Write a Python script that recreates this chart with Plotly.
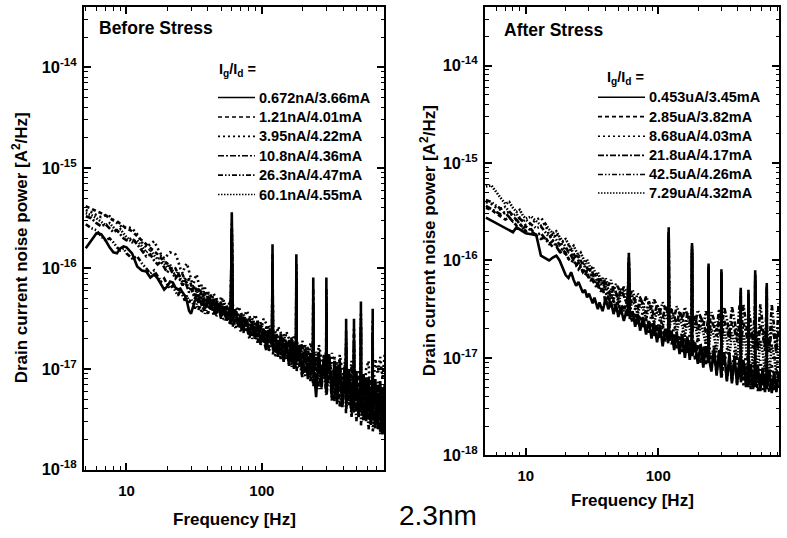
import plotly.graph_objects as go

# ---------------- data ----------------
freq_hz = [5, 5.5, 6, 6.5, 7, 7.5, 8, 8.5, 9, 9.5,
           10, 11, 12, 13, 14, 15, 16, 17, 18, 19,
           20, 21, 22, 23, 24, 25, 26, 27, 28, 29,
           30, 31, 32, 33, 34, 35, 36, 37, 38, 39,
           40, 42, 44, 46, 48, 50, 52, 55, 58, 59,
           60, 61, 64, 67, 70, 73, 77, 81, 85, 89,
           93, 98, 103, 108, 113, 119, 120, 121, 126, 132,
           138, 145, 152, 159, 166, 173, 179, 180, 181, 190,
           199, 209, 219, 229, 239, 240, 241, 252, 264, 276,
           288, 299, 300, 301, 315, 330, 345, 360, 377, 394,
           411, 419, 420, 421, 440, 460, 479, 480, 481, 500,
           520, 539, 540, 541, 565, 590, 615, 640, 659, 660,
           661, 690, 720, 750, 780, 810]

labels_before = ["0.672nA/3.66mA", "1.21nA/4.01mA", "3.95nA/4.22mA",
                 "10.8nA/4.36mA", "26.3nA/4.47mA", "60.1nA/4.55mA"]
labels_after = ["0.453uA/3.45mA", "2.85uA/3.82mA", "8.68uA/4.03mA",
                "21.8uA/4.17mA", "42.5uA/4.26mA", "7.29uA/4.32mA"]

x_tick_vals = [10, 100]
x_tick_text = ["10", "100"]
y_tick_vals = [1e-18, 1e-17, 1e-16, 1e-15, 1e-14]
y_tick_text = ["10<sup>-18</sup>", "10<sup>-17</sup>", "10<sup>-16</sup>",
               "10<sup>-15</sup>", "10<sup>-14</sup>"]

# log10 of drain current noise power [A^2/Hz]
before_s1 = [-15.80, -15.72, -15.65, -15.66, -15.72, -15.79, -15.84, -15.85, -15.80, -15.78,
             -15.79, -15.85, -15.98, -16.02, -16.03, -16.09, -16.06, -16.10, -16.16, -16.21,
             -16.18, -16.13, -16.14, -16.19, -16.21, -16.20, -16.24, -16.27, -16.33, -16.42,
             -16.45, -16.38, -16.32, -16.30, -16.34, -16.31, -16.37, -16.33, -16.40, -16.36,
             -16.28, -16.41, -16.30, -16.45, -16.35, -16.48, -16.38, -16.52, -16.40, -16.47,
             -15.44, -16.50, -16.42, -16.58, -16.46, -16.61, -16.50, -16.66, -16.55, -16.70,
             -16.52, -16.74, -16.60, -16.80, -16.62, -16.78, -15.76, -16.75, -16.66, -16.88,
             -16.65, -16.93, -16.72, -16.97, -16.70, -17.00, -16.78, -15.86, -16.92, -16.76,
             -17.05, -16.80, -17.10, -16.84, -17.02, -16.09, -16.96, -17.28, -16.85, -17.15,
             -16.90, -17.20, -16.09, -17.05, -16.88, -17.30, -16.92, -17.35, -16.95, -17.38,
             -16.98, -17.25, -16.50, -17.30, -17.00, -17.42, -17.05, -16.50, -17.36, -17.02,
             -17.48, -17.10, -16.33, -17.40, -17.05, -17.52, -17.08, -17.55, -17.12, -16.40,
             -17.50, -17.10, -17.60, -17.12, -17.65, -17.15]
before_s2 = [-15.38, -15.41, -15.43, -15.45, -15.47, -15.50, -15.52, -15.53, -15.56, -15.58,
             -15.60, -15.63, -15.68, -15.72, -15.76, -15.80, -15.83, -15.86, -15.90, -15.93,
             -15.95, -15.99, -16.02, -16.00, -16.05, -16.09, -16.06, -16.12, -16.15, -16.10,
             -16.16, -16.21, -16.17, -16.23, -16.20, -16.26, -16.22, -16.29, -16.25, -16.31,
             -16.35, -16.26, -16.38, -16.31, -16.44, -16.33, -16.46, -16.36, -16.49, -16.40,
             -15.55, -16.43, -16.55, -16.45, -16.57, -16.48, -16.62, -16.50, -16.66, -16.54,
             -16.68, -16.56, -16.75, -16.58, -16.79, -16.63, -15.85, -16.64, -16.83, -16.67,
             -16.86, -16.70, -16.90, -16.71, -16.93, -16.74, -16.96, -15.95, -16.78, -16.98,
             -16.75, -17.03, -16.78, -17.06, -16.80, -16.20, -16.84, -17.10, -16.82, -17.14,
             -16.86, -16.95, -16.20, -17.22, -16.85, -17.24, -16.88, -17.28, -16.90, -17.32,
             -16.93, -17.20, -16.62, -17.00, -17.36, -16.98, -17.30, -16.60, -17.05, -17.40,
             -17.02, -17.36, -16.45, -17.10, -17.45, -17.08, -17.50, -17.10, -17.35, -16.52,
             -17.14, -17.55, -17.16, -17.60, -17.18, -17.62]
before_s3 = [-15.42, -15.44, -15.47, -15.49, -15.47, -15.48, -15.52, -15.55, -15.58, -15.60,
             -15.59, -15.60, -15.66, -15.74, -15.79, -15.76, -15.73, -15.80, -15.86, -15.90,
             -15.87, -15.84, -15.85, -15.86, -15.92, -16.00, -16.05, -15.98, -15.95, -16.04,
             -16.12, -16.18, -16.10, -16.06, -16.14, -16.22, -16.16, -16.24, -16.19, -16.27,
             -16.22, -16.36, -16.25, -16.30, -16.40, -16.28, -16.34, -16.45, -16.32, -16.38,
             -15.60, -16.36, -16.48, -16.38, -16.43, -16.52, -16.42, -16.47, -16.58, -16.46,
             -16.52, -16.64, -16.50, -16.55, -16.70, -16.56, -15.95, -16.60, -16.74, -16.58,
             -16.64, -16.80, -16.63, -16.70, -16.86, -16.66, -16.74, -16.00, -16.70, -16.90,
             -16.72, -16.80, -16.96, -16.74, -16.86, -16.30, -16.78, -17.02, -16.76, -16.90,
             -17.08, -16.80, -16.25, -16.95, -17.14, -16.84, -16.98, -17.20, -16.86, -17.02,
             -17.25, -16.90, -16.70, -17.08, -17.30, -16.92, -17.10, -16.65, -16.95, -17.15,
             -17.38, -16.98, -16.50, -17.20, -17.42, -17.00, -16.92, -17.46, -17.02, -16.60,
             -17.26, -16.90, -17.05, -16.88, -17.10, -16.85]
before_s4 = [-15.48, -15.50, -15.55, -15.58, -15.56, -15.60, -15.64, -15.62, -15.66, -15.70,
             -15.72, -15.70, -15.76, -15.82, -15.88, -15.86, -15.92, -15.96, -15.93, -15.99,
             -16.04, -16.00, -16.06, -16.10, -16.07, -16.13, -16.17, -16.12, -16.19, -16.24,
             -16.20, -16.26, -16.30, -16.25, -16.31, -16.28, -16.34, -16.30, -16.36, -16.33,
             -16.40, -16.30, -16.47, -16.34, -16.39, -16.50, -16.37, -16.44, -16.55, -16.41,
             -15.62, -16.58, -16.44, -16.52, -16.63, -16.49, -16.57, -16.70, -16.53, -16.62,
             -16.74, -16.58, -16.70, -16.82, -16.61, -16.72, -15.98, -16.86, -16.68, -16.77,
             -16.90, -16.72, -16.82, -16.95, -16.75, -16.88, -17.00, -16.10, -16.84, -16.92,
             -17.08, -16.82, -16.95, -17.12, -16.86, -16.35, -17.18, -16.88, -17.02, -17.20,
             -16.92, -17.06, -16.35, -17.26, -16.96, -17.12, -17.32, -16.98, -17.16, -17.36,
             -17.00, -17.18, -16.75, -17.40, -17.04, -17.24, -17.44, -16.72, -17.06, -17.28,
             -17.48, -17.10, -16.55, -17.32, -17.52, -17.12, -17.36, -17.56, -17.14, -16.65,
             -17.38, -17.60, -17.16, -17.42, -17.64, -17.20]
before_s5 = [-15.56, -15.60, -15.62, -15.68, -15.72, -15.70, -15.74, -15.79, -15.82, -15.80,
             -15.85, -15.90, -15.88, -15.95, -16.00, -16.05, -16.02, -16.08, -16.13, -16.10,
             -16.16, -16.20, -16.17, -16.23, -16.27, -16.22, -16.28, -16.32, -16.27, -16.34,
             -16.30, -16.36, -16.40, -16.35, -16.41, -16.38, -16.44, -16.39, -16.45, -16.41,
             -16.45, -16.36, -16.31, -16.48, -16.40, -16.35, -16.52, -16.44, -16.39, -16.56,
             -15.70, -16.47, -16.60, -16.52, -16.46, -16.64, -16.55, -16.50, -16.70, -16.60,
             -16.55, -16.76, -16.66, -16.59, -16.82, -16.70, -16.05, -16.66, -16.88, -16.76,
             -16.70, -16.92, -16.80, -16.74, -16.98, -16.84, -16.78, -16.20, -17.02, -16.88,
             -16.82, -17.08, -16.92, -16.86, -17.14, -16.45, -16.96, -16.90, -17.20, -17.00,
             -16.94, -17.26, -16.45, -17.05, -16.98, -17.32, -17.10, -17.00, -17.38, -17.12,
             -17.04, -17.44, -16.80, -17.16, -17.08, -17.48, -17.20, -16.80, -17.12, -17.52,
             -17.24, -17.15, -16.62, -17.56, -17.28, -17.18, -17.60, -17.30, -17.20, -16.70,
             -17.62, -17.34, -17.24, -17.65, -17.36, -17.28]
before_s6 = [-15.45, -15.47, -15.50, -15.54, -15.57, -15.55, -15.59, -15.63, -15.61, -15.65,
             -15.69, -15.74, -15.72, -15.78, -15.84, -15.81, -15.87, -15.91, -15.88, -15.95,
             -15.99, -15.96, -16.03, -16.07, -16.03, -16.10, -16.14, -16.09, -16.16, -16.21,
             -16.17, -16.23, -16.27, -16.22, -16.28, -16.25, -16.31, -16.27, -16.33, -16.30,
             -16.25, -16.33, -16.42, -16.29, -16.37, -16.46, -16.31, -16.41, -16.50, -16.36,
             -15.65, -16.53, -16.40, -16.48, -16.58, -16.45, -16.53, -16.63, -16.49, -16.58,
             -16.68, -16.53, -16.63, -16.73, -16.57, -16.66, -16.02, -16.80, -16.62, -16.72,
             -16.84, -16.65, -16.76, -16.90, -16.68, -16.80, -16.94, -16.15, -16.74, -16.86,
             -17.00, -16.76, -16.88, -17.06, -16.80, -16.40, -17.12, -16.83, -16.96, -17.18,
             -16.86, -17.00, -16.40, -17.22, -16.90, -17.06, -17.30, -16.93, -17.10, -17.34,
             -16.96, -17.14, -16.78, -17.38, -17.00, -17.18, -17.42, -16.76, -17.02, -17.22,
             -17.46, -17.05, -16.58, -17.26, -17.50, -17.08, -17.30, -17.54, -17.10, -16.68,
             -17.34, -17.58, -17.12, -17.38, -17.62, -17.15]

after_s1 = [-15.56, -15.59, -15.62, -15.64, -15.67, -15.69, -15.71, -15.66, -15.68, -15.70,
            -15.72, -15.73, -15.74, -15.95, -15.98, -16.00, -15.97, -15.95, -16.00, -16.08,
            -16.15, -16.18, -16.12, -16.20, -16.26, -16.22, -16.28, -16.33, -16.30, -16.38,
            -16.34, -16.40, -16.44, -16.38, -16.45, -16.50, -16.43, -16.48, -16.52, -16.46,
            -16.38, -16.50, -16.42, -16.55, -16.45, -16.58, -16.48, -16.62, -16.50, -16.57,
            -15.92, -16.60, -16.52, -16.68, -16.55, -16.72, -16.58, -16.76, -16.62, -16.80,
            -16.64, -16.84, -16.66, -16.88, -16.70, -16.85, -15.66, -16.82, -16.72, -16.92,
            -16.74, -16.96, -16.76, -17.00, -16.78, -17.02, -16.82, -15.82, -16.98, -16.84,
            -17.06, -16.86, -17.10, -16.88, -17.05, -16.03, -17.00, -17.14, -16.90, -17.18,
            -16.92, -17.20, -16.09, -17.10, -16.94, -17.24, -16.96, -17.26, -16.98, -17.28,
            -17.00, -17.22, -16.28, -17.25, -17.02, -17.30, -17.04, -16.30, -17.28, -17.06,
            -17.32, -17.08, -16.10, -17.30, -17.08, -17.34, -17.10, -17.35, -17.12, -16.23,
            -17.32, -17.12, -17.36, -17.14, -17.35, -17.16]
after_s2 = [-15.46, -15.48, -15.52, -15.55, -15.58, -15.56, -15.60, -15.64, -15.62, -15.66,
            -15.70, -15.68, -15.74, -15.78, -15.76, -15.82, -15.86, -15.84, -15.90, -15.94,
            -15.92, -15.98, -16.02, -15.99, -16.05, -16.09, -16.06, -16.12, -16.15, -16.11,
            -16.18, -16.21, -16.17, -16.24, -16.27, -16.23, -16.29, -16.32, -16.28, -16.34,
            -16.45, -16.36, -16.48, -16.40, -16.52, -16.42, -16.55, -16.45, -16.58, -16.50,
            -16.00, -16.53, -16.64, -16.55, -16.67, -16.58, -16.70, -16.60, -16.74, -16.63,
            -16.78, -16.66, -16.80, -16.68, -16.83, -16.72, -15.75, -16.74, -16.86, -16.76,
            -16.90, -16.78, -16.94, -16.80, -16.96, -16.82, -16.98, -15.90, -16.85, -17.02,
            -16.86, -17.05, -16.88, -17.08, -16.90, -16.12, -16.92, -17.12, -16.94, -17.15,
            -16.96, -17.02, -16.18, -17.20, -16.98, -17.22, -17.00, -17.24, -17.02, -17.26,
            -17.04, -17.20, -16.36, -17.06, -17.28, -17.08, -17.30, -16.40, -17.10, -17.32,
            -17.12, -17.30, -16.20, -17.14, -17.34, -17.15, -17.33, -17.16, -17.30, -16.32,
            -17.18, -17.35, -17.20, -17.34, -17.22, -17.33]
after_s3 = [-15.40, -15.42, -15.46, -15.48, -15.52, -15.50, -15.55, -15.58, -15.56, -15.60,
            -15.64, -15.62, -15.58, -15.56, -15.62, -15.74, -15.80, -15.72, -15.78, -15.86,
            -15.90, -15.84, -15.92, -15.98, -15.94, -16.00, -16.06, -16.02, -16.08, -16.12,
            -16.07, -16.14, -16.18, -16.13, -16.20, -16.24, -16.19, -16.26, -16.30, -16.25,
            -16.32, -16.44, -16.36, -16.41, -16.48, -16.38, -16.44, -16.52, -16.42, -16.47,
            -16.05, -16.46, -16.57, -16.49, -16.53, -16.61, -16.52, -16.57, -16.66, -16.56,
            -16.62, -16.72, -16.60, -16.66, -16.77, -16.65, -15.80, -16.70, -16.80, -16.68,
            -16.74, -16.85, -16.72, -16.78, -16.90, -16.75, -16.82, -15.95, -16.78, -16.93,
            -16.80, -16.86, -16.98, -16.82, -16.92, -16.18, -16.85, -17.02, -16.86, -16.95,
            -17.05, -16.88, -16.22, -16.98, -17.08, -16.90, -17.00, -17.12, -16.92, -17.04,
            -17.15, -16.94, -16.40, -17.08, -17.18, -16.96, -17.10, -16.45, -16.98, -17.14,
            -17.22, -17.00, -16.25, -17.16, -17.26, -17.02, -17.18, -17.28, -17.04, -16.38,
            -17.20, -17.30, -17.06, -17.22, -17.32, -17.08]
after_s4 = [-15.44, -15.47, -15.50, -15.53, -15.51, -15.56, -15.60, -15.58, -15.63, -15.67,
            -15.65, -15.70, -15.74, -15.72, -15.78, -15.83, -15.80, -15.86, -15.91, -15.88,
            -15.94, -15.98, -15.95, -16.01, -16.05, -16.02, -16.08, -16.12, -16.09, -16.15,
            -16.18, -16.14, -16.20, -16.24, -16.21, -16.26, -16.30, -16.27, -16.32, -16.29,
            -16.22, -16.30, -16.38, -16.26, -16.33, -16.40, -16.29, -16.36, -16.44, -16.32,
            -15.97, -16.47, -16.36, -16.42, -16.50, -16.39, -16.45, -16.54, -16.42, -16.48,
            -16.57, -16.45, -16.52, -16.60, -16.47, -16.55, -15.70, -16.64, -16.50, -16.57,
            -16.66, -16.52, -16.59, -16.68, -16.54, -16.61, -16.70, -15.85, -16.63, -16.56,
            -16.72, -16.58, -16.64, -16.74, -16.59, -16.06, -16.76, -16.62, -16.68, -16.78,
            -16.60, -16.69, -16.12, -16.80, -16.62, -16.70, -16.82, -16.63, -16.71, -16.84,
            -16.64, -16.72, -16.30, -16.86, -16.64, -16.73, -16.88, -16.33, -16.65, -16.74,
            -16.90, -16.66, -16.14, -16.75, -16.92, -16.66, -16.76, -16.93, -16.67, -16.26,
            -16.77, -16.94, -16.67, -16.78, -16.95, -16.68]
after_s5 = [-15.38, -15.40, -15.44, -15.47, -15.45, -15.50, -15.54, -15.52, -15.57, -15.60,
            -15.58, -15.63, -15.67, -15.65, -15.71, -15.76, -15.73, -15.79, -15.84, -15.81,
            -15.87, -15.91, -15.88, -15.94, -15.98, -15.95, -16.01, -16.05, -16.02, -16.08,
            -16.11, -16.07, -16.13, -16.17, -16.14, -16.19, -16.23, -16.20, -16.25, -16.22,
            -16.18, -16.26, -16.20, -16.31, -16.24, -16.28, -16.35, -16.27, -16.33, -16.38,
            -16.02, -16.36, -16.30, -16.41, -16.34, -16.38, -16.46, -16.37, -16.43, -16.50,
            -16.40, -16.46, -16.53, -16.43, -16.49, -16.56, -15.72, -16.45, -16.52, -16.59,
            -16.47, -16.55, -16.62, -16.48, -16.56, -16.64, -16.50, -15.88, -16.57, -16.66,
            -16.51, -16.58, -16.68, -16.52, -16.60, -16.08, -16.70, -16.53, -16.61, -16.72,
            -16.50, -16.62, -16.14, -16.74, -16.48, -16.60, -16.76, -16.47, -16.62, -16.78,
            -16.46, -16.63, -16.32, -16.80, -16.45, -16.64, -16.82, -16.35, -16.46, -16.65,
            -16.84, -16.44, -16.16, -16.66, -16.86, -16.45, -16.66, -16.88, -16.44, -16.28,
            -16.67, -16.90, -16.45, -16.68, -16.92, -16.44]
after_s6 = [-15.24, -15.23, -15.30, -15.36, -15.42, -15.40, -15.46, -15.50, -15.48, -15.54,
            -15.57, -15.55, -15.60, -15.64, -15.62, -15.68, -15.72, -15.70, -15.76, -15.80,
            -15.78, -15.84, -15.88, -15.85, -15.91, -15.95, -15.92, -15.98, -16.02, -15.99,
            -16.05, -16.09, -16.06, -16.11, -16.15, -16.12, -16.17, -16.21, -16.18, -16.23,
            -16.26, -16.35, -16.29, -16.40, -16.32, -16.44, -16.36, -16.31, -16.47, -16.39,
            -16.05, -16.50, -16.42, -16.46, -16.56, -16.45, -16.50, -16.60, -16.48, -16.54,
            -16.64, -16.52, -16.58, -16.68, -16.55, -16.61, -15.78, -16.70, -16.58, -16.64,
            -16.74, -16.60, -16.67, -16.78, -16.62, -16.70, -16.80, -15.92, -16.72, -16.64,
            -16.82, -16.66, -16.74, -16.86, -16.68, -16.15, -16.88, -16.70, -16.78, -16.92,
            -16.70, -16.80, -16.20, -16.95, -16.72, -16.82, -16.98, -16.74, -16.84, -17.02,
            -16.75, -16.86, -16.38, -17.05, -16.76, -16.88, -17.08, -16.42, -16.78, -16.90,
            -17.10, -16.80, -16.22, -16.92, -17.12, -16.82, -16.94, -17.14, -16.84, -16.35,
            -16.96, -17.16, -16.86, -16.98, -17.18, -16.88]

before_series = [before_s1, before_s2, before_s3, before_s4, before_s5, before_s6]
after_series = [after_s1, after_s2, after_s3, after_s4, after_s5, after_s6]

# ---------------- styling ----------------
W, H = 787, 538
YK = 1 / 0.978   # vertical correction observed in the rendered page
dashes = ["solid", "4px,3px", "2px,3px", "6px,2px,2px,2px",
          "5px,2px,1.5px,2px,1.5px,2px", "1.5px,1.5px"]
FONT = "Liberation Sans, Arial, Helvetica, sans-serif"
LINE_W = 2.6

# minor tick positions (axis values, not data)
x_minor = [m * 10 ** e for e in (0, 1, 2) for m in range(2, 10)]
y_minor = [m * 10.0 ** e for e in (-18, -17, -16, -15, -14) for m in range(2, 10)]

XR_L = [0.686, 2.903]
XR_R = [0.692, 2.912]
YR = [-18, -13.4]


def px_x(x):
    return x / W


def px_y(y):
    return 1 - (y * YK) / H


fig = go.Figure()
for vals, lab, d in zip(before_series, labels_before, dashes):
    fig.add_trace(go.Scatter(x=freq_hz, y=[10 ** v for v in vals], mode="lines",
                             name=lab, line=dict(color="black", width=LINE_W, dash=d),
                             xaxis="x", yaxis="y", showlegend=False))
for vals, lab, d in zip(after_series, labels_after, dashes):
    fig.add_trace(go.Scatter(x=freq_hz, y=[10 ** v for v in vals], mode="lines",
                             name=lab, line=dict(color="black", width=LINE_W, dash=d),
                             xaxis="x2", yaxis="y2", showlegend=False))
# empty helper traces so the overlaid minor-tick axes get drawn
for xa, ya in (("x3", "y3"), ("x4", "y4")):
    fig.add_trace(go.Scatter(x=[None], y=[None], mode="lines", xaxis=xa, yaxis=ya,
                             showlegend=False, hoverinfo="skip"))

xtickfont = dict(family=FONT, size=15, color="black", weight="bold")
ytickfont = dict(family=FONT, size=16.5, color="black", weight="bold")


def major_axis(vals, texts, font, **kw):
    base = dict(type="log", showline=True, linecolor="black", linewidth=2,
                mirror="allticks", ticks="inside", ticklen=7, tickwidth=1.5,
                tickcolor="black", tickmode="array", tickvals=vals, ticktext=texts,
                showgrid=False, zeroline=False, tickfont=font)
    base.update(kw)
    return base


def minor_axis(vals, **kw):
    base = dict(type="log", showline=False, mirror="allticks", ticks="inside",
                ticklen=3.5, tickwidth=1, tickcolor="black", tickmode="array",
                tickvals=vals, showticklabels=False, showgrid=False, zeroline=False)
    base.update(kw)
    return base


fig.update_layout(
    width=W, height=H, margin=dict(l=0, r=0, t=0, b=0),
    paper_bgcolor="white", plot_bgcolor="white",
    xaxis=major_axis(x_tick_vals, x_tick_text, xtickfont, domain=[px_x(84), px_x(384)],
                     range=XR_L, anchor="y", ticklabelstandoff=6),
    yaxis=major_axis(y_tick_vals, y_tick_text, ytickfont, domain=[px_y(467), px_y(7)],
                     range=YR, anchor="x", ticklabelstandoff=2),
    xaxis2=major_axis(x_tick_vals, x_tick_text, xtickfont, domain=[px_x(485), px_x(779)],
                      range=XR_R, anchor="y2", ticklabelstandoff=6),
    yaxis2=major_axis(y_tick_vals, y_tick_text, ytickfont, domain=[px_y(453), px_y(7)],
                      range=YR, anchor="x2", ticklabelstandoff=2),
    xaxis3=minor_axis(x_minor, overlaying="x", range=XR_L, anchor="y3"),
    yaxis3=minor_axis(y_minor, overlaying="y", range=YR, anchor="x3"),
    xaxis4=minor_axis(x_minor, overlaying="x2", range=XR_R, anchor="y4"),
    yaxis4=minor_axis(y_minor, overlaying="y2", range=YR, anchor="x4"),
)

ann = []


def text(x, y, s, size, bold=True, angle=0, xanchor="center"):
    ann.append(dict(x=px_x(x), y=px_y(y), xref="paper", yref="paper", text=s,
                    showarrow=False, textangle=angle, xanchor=xanchor, yanchor="middle",
                    font=dict(family=FONT, size=size, color="black",
                              weight="bold" if bold else "normal")))


text(97, 28, "Before Stress", 17.5, xanchor="left")
text(502, 30, "After Stress", 17.5, xanchor="left")
text(20, 247, "Drain current noise power [A<sup>2</sup>/Hz]", 17, angle=-90)
text(428, 240, "Drain current noise power [A<sup>2</sup>/Hz]", 17, angle=-90)
text(234, 517, "Frequency [Hz]", 17)
text(632, 498, "Frequency [Hz]", 17)
text(438, 513, "2.3nm", 28, bold=False)

shapes = []


def legend(x_head, y_head, x_line0, x_line1, x_text, y_rows, labels):
    text(x_head, y_head, "I<sub>g</sub>/I<sub>d</sub> =", 14.5, xanchor="left")
    for yy, lab, d in zip(y_rows, labels, dashes):
        shapes.append(dict(type="line", xref="paper", yref="paper",
                           x0=px_x(x_line0), x1=px_x(x_line1), y0=px_y(yy), y1=px_y(yy),
                           line=dict(color="black", width=1.6, dash=d)))
        text(x_text, yy, lab, 14.5, xanchor="left")


legend(217, 70, 218, 255, 257, [97, 116.3, 135.6, 154.9, 174.2, 193.5], labels_before)
legend(605, 78, 598, 645, 647, [96.7, 116, 135.5, 154.5, 173.5, 192], labels_after)

fig.update_layout(annotations=ann, shapes=shapes)
fig.write_html("out.html")
